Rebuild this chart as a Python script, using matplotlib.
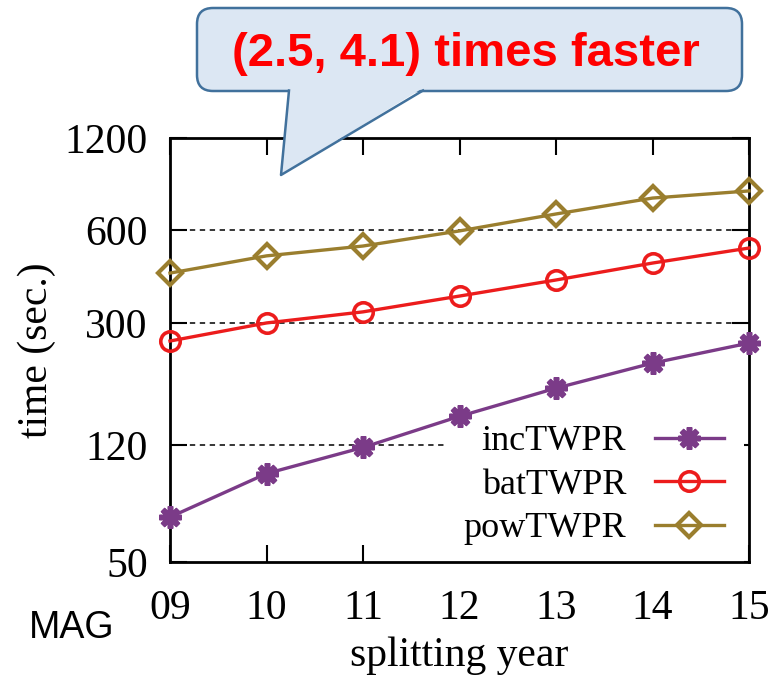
import matplotlib
matplotlib.use("Agg")
import matplotlib.pyplot as plt
from matplotlib.patches import FancyBboxPatch, Polygon
from matplotlib.lines import Line2D

years = [9, 10, 11, 12, 13, 14, 15]
year_labels = ["09", "10", "11", "12", "13", "14", "15"]
inc_twpr = [70, 97, 118, 149, 184, 222, 258]
bat_twpr = [262, 300, 326, 367, 414, 470, 526]
pow_twpr = [436, 496, 534, 598, 679, 765, 807]
y_ticks = [50, 120, 300, 600, 1200]
grid_vals = [120, 300, 600]

serif = "Liberation Serif"
sans = "Liberation Sans"

fig = plt.figure(figsize=(7.71, 6.77), dpi=100)
W, H = 771, 677
ax = fig.add_axes([170 / W, 1 - 562 / H, (749 - 170) / W, (562 - 138) / H])

ax.set_yscale("log")
ax.set_xlim(9, 15)
ax.set_ylim(50, 1200)

# dashed reference lines, the lowest one hidden by the legend box
for g in grid_vals:
    ax.axhline(g, color="k", lw=1.1, ls=(0, (3.5, 3)), zorder=1)

ax.plot(years, inc_twpr, color="#7b3b88", lw=2.4, marker=(8, 2, 0), ms=16, mew=4,
        label="incTWPR", clip_on=False, zorder=3)
ax.plot(years, bat_twpr, color="#ec1c1c", lw=2.4, marker="o", ms=14, mfc="none", mew=2.6,
        label="batTWPR", clip_on=False, zorder=3)
ax.plot(years, pow_twpr, color="#9a7e2e", lw=2.4, marker="D", ms=12, mfc="none", mew=3,
        label="powTWPR", clip_on=False, zorder=3)

ax.set_xticks(years)
ax.set_xticklabels(year_labels, fontfamily=serif, fontsize=30)
ax.set_yticks(y_ticks)
ax.set_yticklabels([str(v) for v in y_ticks], fontfamily=serif, fontsize=30)
ax.minorticks_off()
ax.tick_params(direction="in", length=12, width=1.5, top=True, right=True)
ax.tick_params(axis="x", pad=20)
ax.tick_params(axis="y", pad=16)
for s in ax.spines.values():
    s.set_linewidth(2)

ax.set_xlabel("splitting year", fontfamily=serif, fontsize=30, labelpad=6)
ax.set_ylabel("time (sec.)", fontfamily=serif, fontsize=30, labelpad=6)

leg = ax.legend(loc="lower right", bbox_to_anchor=(1.0, -0.02), markerfirst=False,
                frameon=True, fancybox=False,
                prop={"family": serif, "size": 26}, handlelength=1.9, handletextpad=0.8,
                labelspacing=0.28, borderpad=0.55, borderaxespad=0.15)
leg.get_frame().set_facecolor("white")
leg.get_frame().set_edgecolor("none")
leg.get_frame().set_alpha(1)
leg.set_zorder(1.5)

# callout overlay in pixel space
ov = fig.add_axes([0, 0, 1, 1], zorder=10)
ov.set_xlim(0, W)
ov.set_ylim(H, 0)
ov.axis("off")

fill = "#dce7f3"
edge = "#41719c"
box = FancyBboxPatch((197, 8), 545, 83, boxstyle="round,pad=0,rounding_size=16",
                     facecolor=fill, edgecolor=edge, lw=1.8)
ov.add_patch(box)
ov.add_patch(Polygon([(289, 88), (281, 175), (423, 88)], closed=True,
                     facecolor=fill, edgecolor="none"))
ov.add_line(Line2D([289, 281, 423], [90.5, 175, 90.5], color=edge, lw=1.8))

ov.text(466, 54, "(2.5, 4.1) times faster", color="#ff0000", fontweight="bold",
        fontsize=34, ha="center", va="center", fontfamily=sans)
ov.text(72, 628, "MAG", fontfamily=sans, fontsize=27, ha="center", va="center")

fig.savefig("out.png", dpi=100)
